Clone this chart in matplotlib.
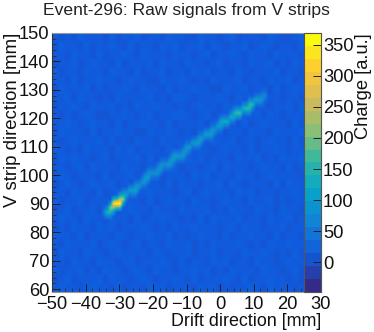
import numpy as np
import matplotlib
matplotlib.use("Agg")
import matplotlib.pyplot as plt
from matplotlib.cm import ScalarMappable
from matplotlib.colors import LinearSegmentedColormap, BoundaryNorm, Normalize
from matplotlib.ticker import MultipleLocator, FixedLocator

plt.rcParams['font.family'] = ['Liberation Sans', 'DejaVu Sans']

TITLE = "Event-296: Raw signals from V strips"
XLABEL = "Drift direction [mm]"
YLABEL = "V strip direction [mm]"
CLABEL = "Charge [a.u.]"
x_ticks = [-50, -40, -30, -20, -10, 0, 10, 20, 30]
y_ticks = [60, 70, 80, 90, 100, 110, 120, 130, 140, 150]
c_ticks = [0, 50, 100, 150, 200, 250, 300, 350]
c_min, c_max = -48, 369

# Hit track: drift position, strip position, peak charge
track_drift = [-34.5, -33.5, -32.5, -31.5, -30.5, -29.5, -28.5, -27.25, -26, -24.75,
               -23.5, -22.25, -21, -19.75, -18.5, -17.25, -16, -14.75, -13.5, -12.25,
               -11, -9.75, -8.5, -7.25, -6, -4.75, -3.5, -2.25, -1, 0.25,
               1.5, 2.75, 4, 5.25, 6.5, 7.75, 9, 10.25, 11.5, 12.75]
track_strip = [86.5, 87.5, 88.5, 89.5, 90.5, 91.3, 92.5, 94, 95, 96.3,
               97.5, 99, 100, 101, 102, 103, 104, 105.5, 106.5, 107.5,
               108.5, 109.7, 110.7, 111.8, 113, 114, 115, 116, 117.2, 118.3,
               119.3, 120.3, 121.3, 122.3, 123, 124, 125.3, 126.2, 126.8, 127.3]
track_charge = [60, 140, 210, 320, 369, 240, 115, 95, 110, 90,
                85, 95, 80, 75, 80, 75, 85, 90, 100, 90,
                80, 90, 85, 95, 90, 100, 95, 85, 100, 110,
                125, 120, 110, 170, 130, 155, 150, 100, 80, 60]

# Hand-estimated pedestal texture (approximate: individual noise cells are not exactly
# legible). Each digit d is one coarse cell of charge (d - 4) * 6 + 4, top row first.
pedestal_rows = [
    "4343544435344534435443354434534443543345",
    "3544353445435344354534453543445345434435",
    "4435443534454354443544345344543544354443",
    "3445345443534445354435443453443544534354",
    "5344354435443534453443545344354344453443",
    "4435344544345443354454343544453443544534",
    "3544453434454354435344544335445344353454",
    "4453544343544445343554344454354435443443",
    "3445435445343544544343454435443544344535",
    "5343454334454345344554345344354453543444",
    "4454345443534454435344453544435345444353",
    "3544435344544335445434354453443544354445",
    "4345444535343544354445343544534434544353",
    "5434354443545344435354444345443534454344",
    "3545443453444535344345453444354453435445",
    "4434535444354434544534434535444345443534",
    "4543444353445344534443545344354434544443",
    "3454345445343544435354434453543444353544",
    "4435443534544345444345345444354534434454",
    "5344534443454435345443544345443544534344",
    "3453445344345443544354445343544354435443",
    "4544354435443534454434353544453443544534",
    "3435443545344454343544544434535443445344",
    "5443534443543445445343454435344544353443",
    "4354445345434534435445343544454343544544",
    "3544354434544443543445344534435445434353",
    "4435443544345344454353443545344354434544",
    "5344534354434543544344545343544435443453",
    "3453444535443454344543534445435344544343",
    "4544345443534435453444354534344543544434",
]

# kBird palette stops
bird_stops = [(0.2082, 0.1664, 0.5293), (0.0592, 0.3599, 0.8684), (0.0780, 0.5041, 0.8385),
              (0.0232, 0.6419, 0.7914), (0.1802, 0.7178, 0.6425), (0.5301, 0.7492, 0.4662),
              (0.8186, 0.7328, 0.3499), (0.9956, 0.7862, 0.1968), (0.9764, 0.9832, 0.0539)]

n_levels = 20
cmap = LinearSegmentedColormap.from_list("bird", bird_stops, N=256)
levels = np.linspace(c_min, c_max, n_levels + 1)

coarse = np.array([[(int(ch) - 4) * 6.0 + 4 for ch in r] for r in pedestal_rows])
grid = np.repeat(np.repeat(coarse, 2, axis=0), 2, axis=1)  # top row first
n_rows, n_cols = grid.shape
x0, x1, y0, y1 = -50.0, 25.0, 59.0, 150.0
dx, dy = (x1 - x0) / n_cols, (y1 - y0) / n_rows

for xv, yv, q in zip(track_drift, track_strip, track_charge):
    col = int((xv - x0) / dx)
    row = int((y1 - yv) / dy)
    for c in (col, col + 1):
        for off, frac in ((0, 1.0), (-1, 0.42), (1, 0.42)):
            r = row + off
            if 0 <= r < n_rows and 0 <= c < n_cols:
                grid[r, c] = max(grid[r, c], q * frac)

W, H = 374, 332
fig = plt.figure(figsize=(W / 100, H / 100), dpi=100, facecolor='white')
L, R, T, B, CB = 52, 321, 33, 292, 304
ax = fig.add_axes([L / W, 1 - B / H, (R - L) / W, (B - T) / H])
im = ax.imshow(grid, extent=[x0, x1, y0, y1], origin='upper', aspect='auto', cmap=cmap,
               norm=Normalize(c_min, c_max), interpolation='bilinear', interpolation_stage='data')
ax.set_xlim(-50, 30)
ax.set_ylim(y0, y1)

ax.xaxis.set_major_locator(FixedLocator(x_ticks))
ax.xaxis.set_minor_locator(MultipleLocator(2))
ax.yaxis.set_major_locator(FixedLocator(y_ticks))
ax.yaxis.set_minor_locator(MultipleLocator(2))
ax.set_xticklabels([str(v).replace('-', '\u2212') for v in x_ticks])
ax.set_yticklabels([str(v) for v in y_ticks])
ax.tick_params(axis='both', which='major', direction='in', length=6.0, width=0.7,
               color='#202020', labelsize=13.2, pad=2, labelcolor='#111111')
ax.tick_params(axis='both', which='minor', direction='in', length=3.0, width=0.6, color='#303030')
ax.tick_params(axis='x', which='major', pad=3)
for side, sp in ax.spines.items():
    sp.set_linewidth(0.8)
    sp.set_color('#9a9a9a')
ax.spines['left'].set_color('#333333')

cax = fig.add_axes([CB / W, 1 - B / H, (R - CB) / W, (B - T) / H])
cb = fig.colorbar(ScalarMappable(norm=BoundaryNorm(levels, cmap.N), cmap=cmap), cax=cax,
                  ticks=c_ticks, spacing='proportional', drawedges=False)
cb.ax.tick_params(which='major', direction='in', length=6.0, width=0.7, color='#202020',
                  labelsize=13.2, pad=1.5, labelcolor='#111111')
cb.ax.minorticks_off()
cb.outline.set_linewidth(0.8)
cb.outline.set_edgecolor('#555555')

fig.text(186.5 / W, 1 - 10 / H, TITLE, ha='center', va='center', fontsize=12.6, color='#222222')
fig.text(R / W, 1 - 321.5 / H, XLABEL, ha='right', va='center', fontsize=12.9, color='#111111')
fig.text(13 / W, 1 - T / H, YLABEL, ha='center', va='top', rotation=90, fontsize=13.4, color='#111111')
fig.text(363 / W, 1 - T / H, CLABEL, ha='center', va='top', rotation=90, fontsize=13.2, color='#111111')

fig.savefig("out.png", dpi=100)
